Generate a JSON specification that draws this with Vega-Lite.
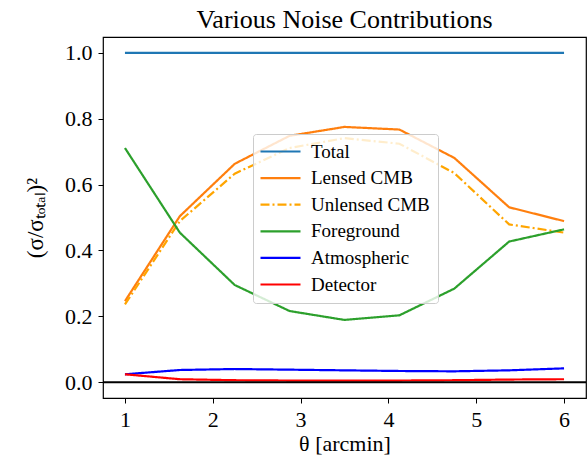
{
 "$schema": "https://vega.github.io/schema/vega-lite/v6.json",
 "width": 483,
 "height": 361,
 "autosize": {"type": "none"},
 "padding": {"left": 103, "top": 37, "right": 1, "bottom": 59},
 "background": "white",
 "title": {"text": "Various Noise Contributions", "font": "Liberation Serif", "fontSize": 26, "fontWeight": "normal", "color": "black", "offset": 4},
 "config": {
  "view": {"stroke": "black", "strokeWidth": 1.2},
  "axis": {"domain": false, "grid": false, "tickColor": "black", "tickSize": 5, "tickWidth": 1, "labelFont": "Liberation Serif", "labelFontSize": 22, "labelColor": "black", "titleFont": "Liberation Serif", "titleFontSize": 22, "titleFontWeight": "normal", "titleColor": "black", "labelPadding": 6}
 },
 "layer": [
  {
   "data": {"values": [
    {"theta": 1, "value": 1.0, "series": "Total"},
    {"theta": 1.625, "value": 1.0, "series": "Total"},
    {"theta": 2.25, "value": 1.0, "series": "Total"},
    {"theta": 2.875, "value": 1.0, "series": "Total"},
    {"theta": 3.5, "value": 1.0, "series": "Total"},
    {"theta": 4.125, "value": 1.0, "series": "Total"},
    {"theta": 4.75, "value": 1.0, "series": "Total"},
    {"theta": 5.375, "value": 1.0, "series": "Total"},
    {"theta": 6, "value": 1.0, "series": "Total"},
    {"theta": 1, "value": 0.246, "series": "Lensed CMB"},
    {"theta": 1.625, "value": 0.504, "series": "Lensed CMB"},
    {"theta": 2.25, "value": 0.663, "series": "Lensed CMB"},
    {"theta": 2.875, "value": 0.748, "series": "Lensed CMB"},
    {"theta": 3.5, "value": 0.775, "series": "Lensed CMB"},
    {"theta": 4.125, "value": 0.767, "series": "Lensed CMB"},
    {"theta": 4.75, "value": 0.681, "series": "Lensed CMB"},
    {"theta": 5.375, "value": 0.531, "series": "Lensed CMB"},
    {"theta": 6, "value": 0.489, "series": "Lensed CMB"},
    {"theta": 1, "value": 0.236, "series": "Unlensed CMB"},
    {"theta": 1.625, "value": 0.489, "series": "Unlensed CMB"},
    {"theta": 2.25, "value": 0.633, "series": "Unlensed CMB"},
    {"theta": 2.875, "value": 0.711, "series": "Unlensed CMB"},
    {"theta": 3.5, "value": 0.741, "series": "Unlensed CMB"},
    {"theta": 4.125, "value": 0.724, "series": "Unlensed CMB"},
    {"theta": 4.75, "value": 0.635, "series": "Unlensed CMB"},
    {"theta": 5.375, "value": 0.479, "series": "Unlensed CMB"},
    {"theta": 6, "value": 0.454, "series": "Unlensed CMB"},
    {"theta": 1, "value": 0.711, "series": "Foreground"},
    {"theta": 1.625, "value": 0.454, "series": "Foreground"},
    {"theta": 2.25, "value": 0.295, "series": "Foreground"},
    {"theta": 2.875, "value": 0.216, "series": "Foreground"},
    {"theta": 3.5, "value": 0.189, "series": "Foreground"},
    {"theta": 4.125, "value": 0.203, "series": "Foreground"},
    {"theta": 4.75, "value": 0.284, "series": "Foreground"},
    {"theta": 5.375, "value": 0.427, "series": "Foreground"},
    {"theta": 6, "value": 0.464, "series": "Foreground"},
    {"theta": 1, "value": 0.024, "series": "Atmospheric"},
    {"theta": 1.625, "value": 0.037, "series": "Atmospheric"},
    {"theta": 2.25, "value": 0.040, "series": "Atmospheric"},
    {"theta": 2.875, "value": 0.038, "series": "Atmospheric"},
    {"theta": 3.5, "value": 0.036, "series": "Atmospheric"},
    {"theta": 4.125, "value": 0.034, "series": "Atmospheric"},
    {"theta": 4.75, "value": 0.033, "series": "Atmospheric"},
    {"theta": 5.375, "value": 0.036, "series": "Atmospheric"},
    {"theta": 6, "value": 0.042, "series": "Atmospheric"},
    {"theta": 1, "value": 0.024, "series": "Detector"},
    {"theta": 1.625, "value": 0.009, "series": "Detector"},
    {"theta": 2.25, "value": 0.006, "series": "Detector"},
    {"theta": 2.875, "value": 0.005, "series": "Detector"},
    {"theta": 3.5, "value": 0.005, "series": "Detector"},
    {"theta": 4.125, "value": 0.005, "series": "Detector"},
    {"theta": 4.75, "value": 0.006, "series": "Detector"},
    {"theta": 5.375, "value": 0.008, "series": "Detector"},
    {"theta": 6, "value": 0.009, "series": "Detector"}
   ]},
   "mark": {"type": "line", "strokeWidth": 2.2},
   "encoding": {
    "x": {"field": "theta", "type": "quantitative", "scale": {"domain": [0.75, 6.25], "nice": false, "zero": false}, "axis": {"title": "θ [arcmin]", "values": [1, 2, 3, 4, 5, 6], "format": "d", "titlePadding": 3}},
    "y": {"field": "value", "type": "quantitative", "scale": {"domain": [-0.048, 1.048], "nice": false, "zero": false}, "axis": {"title": "(σ/σₜₒₜₐₗ)²", "titleFontSize": 23, "values": [0, 0.2, 0.4, 0.6, 0.8, 1.0], "format": ".1f", "titlePadding": 17}},
    "color": {"field": "series", "type": "nominal", "scale": {"domain": ["Total", "Lensed CMB", "Unlensed CMB", "Foreground", "Atmospheric", "Detector"], "range": ["#1f77b4", "#ff7f0e", "#ffa500", "#2ca02c", "#0000ff", "#ff0000"]},
     "legend": {"title": null, "orient": "none", "legendX": 150, "legendY": 97, "symbolType": "M-4,0H4", "symbolSize": 100, "symbolStrokeWidth": 2.2, "symbolOffset": 10, "labelFont": "Liberation Serif", "labelFontSize": 19, "labelColor": "black", "fillColor": "rgba(255,255,255,0.8)", "strokeColor": "#cccccc", "cornerRadius": 3, "padding": 8, "labelOffset": 21, "rowPadding": 6.6}},
    "strokeDash": {"field": "series", "type": "nominal", "scale": {"domain": ["Total", "Lensed CMB", "Unlensed CMB", "Foreground", "Atmospheric", "Detector"], "range": [[1, 0], [1, 0], [9, 3, 2, 3], [1, 0], [1, 0], [1, 0]]},
     "legend": {"title": null, "orient": "none", "legendX": 150, "legendY": 97, "symbolType": "M-4,0H4", "symbolSize": 100, "symbolStrokeWidth": 2.2, "symbolOffset": 10, "labelFont": "Liberation Serif", "labelFontSize": 19, "labelColor": "black", "fillColor": "rgba(255,255,255,0.8)", "strokeColor": "#cccccc", "cornerRadius": 3, "padding": 8, "labelOffset": 21, "rowPadding": 6.6}}
   }
  },
  {
   "data": {"values": [{"value": 0}]},
   "mark": {"type": "rule", "color": "black", "strokeWidth": 2},
   "encoding": {"y": {"field": "value", "type": "quantitative"}}
  }
 ]
}
